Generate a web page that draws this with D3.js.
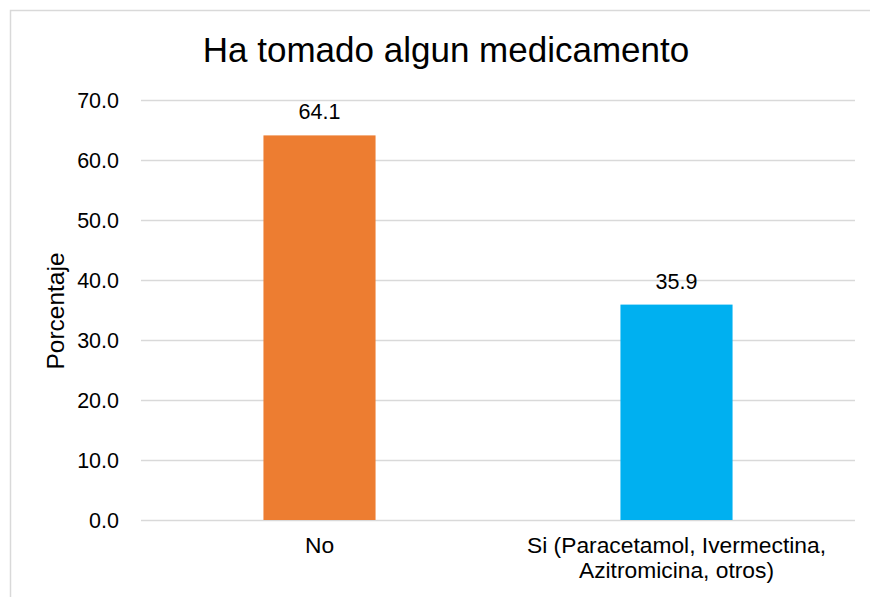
<!DOCTYPE html>
<html>
<head>
<meta charset="utf-8">
<script src="https://cdn.jsdelivr.net/npm/d3@7"></script>
<style>
    body { margin: 0; background: #fff; }
    text { font-family: "Liberation Sans", Arial, sans-serif; fill: #000; }
</style>
</head>
<body>
<div id="chart"></div>
<script>
// Chart data
const categories = ['No', 'Si (Paracetamol, Ivermectina,|Azitromicina, otros)'];
const values = [64.1, 35.9];
const barColors = ['#ED7D31', '#00B0F0'];
const yTicks = [0, 10, 20, 30, 40, 50, 60, 70];

const titleText = 'Ha tomado algun medicamento';
const yLabelText = 'Porcentaje';

const width = 870;
const height = 597;
const margin = { top: 100, right: 15, bottom: 77, left: 141 };
const plotW = width - margin.left - margin.right;
const plotH = height - margin.top - margin.bottom;

const svg = d3.select('#chart').append('svg')
    .attr('width', width)
    .attr('height', height);

// chart border
svg.append('rect')
    .attr('x', 10.5)
    .attr('y', 10.5)
    .attr('width', width)
    .attr('height', height)
    .attr('fill', 'none')
    .attr('stroke', '#d9d9d9')
    .attr('stroke-width', 1.5);

const g = svg.append('g')
    .attr('transform', `translate(${margin.left},${margin.top})`);

const xScale = d3.scaleBand()
    .domain(categories)
    .range([0, plotW])
    .padding(0);

const yScale = d3.scaleLinear()
    .domain([0, 70])
    .range([plotH, 0]);

const barW = xScale.bandwidth() * 0.314;

// gridlines
g.selectAll('.grid')
    .data(yTicks)
    .enter()
    .append('line')
    .attr('x1', 0)
    .attr('x2', plotW)
    .attr('y1', d => Math.round(yScale(d)) + 0.5)
    .attr('y2', d => Math.round(yScale(d)) + 0.5)
    .attr('stroke', '#d9d9d9')
    .attr('stroke-width', 1.5);

// y tick labels
const yAxis = g.append('g')
    .call(d3.axisLeft(yScale).tickValues(yTicks).tickFormat(d3.format('.1f')).tickSize(0).tickPadding(22));
yAxis.select('.domain').remove();
yAxis.selectAll('text')
    .style('font-size', '21.5px')
    .attr('font-family', null)
    .attr('dy', '0.36em');

// bars
g.selectAll('.bar')
    .data(values)
    .enter()
    .append('rect')
    .attr('class', 'bar')
    .attr('x', (d, i) => xScale(categories[i]) + (xScale.bandwidth() - barW) / 2)
    .attr('y', d => yScale(d))
    .attr('width', barW)
    .attr('height', d => plotH - yScale(d))
    .attr('fill', (d, i) => barColors[i]);

// data labels
g.selectAll('.val')
    .data(values)
    .enter()
    .append('text')
    .attr('x', (d, i) => xScale(categories[i]) + xScale.bandwidth() / 2)
    .attr('y', d => yScale(d) - 16)
    .attr('text-anchor', 'middle')
    .style('font-size', '21.5px')
    .text(d => d.toFixed(1));

// x labels
const xAxis = g.append('g')
    .attr('transform', `translate(0,${plotH})`);
categories.forEach(c => {
    const t = xAxis.append('text')
        .attr('x', xScale(c) + xScale.bandwidth() / 2)
        .attr('y', 33)
        .attr('text-anchor', 'middle')
        .style('font-size', '22.8px');
    c.split('|').forEach((line, i) => {
        t.append('tspan')
            .attr('x', xScale(c) + xScale.bandwidth() / 2)
            .attr('dy', i === 0 ? 0 : 25)
            .text(line);
    });
});

// title
svg.append('text')
    .attr('x', 446)
    .attr('y', 62)
    .attr('text-anchor', 'middle')
    .style('font-size', '35px')
    .text(titleText);

// y axis label
svg.append('text')
    .attr('transform', 'translate(64,311) rotate(-90)')
    .attr('text-anchor', 'middle')
    .style('font-size', '24.5px')
    .text(yLabelText);
</script>
</body>
</html>
